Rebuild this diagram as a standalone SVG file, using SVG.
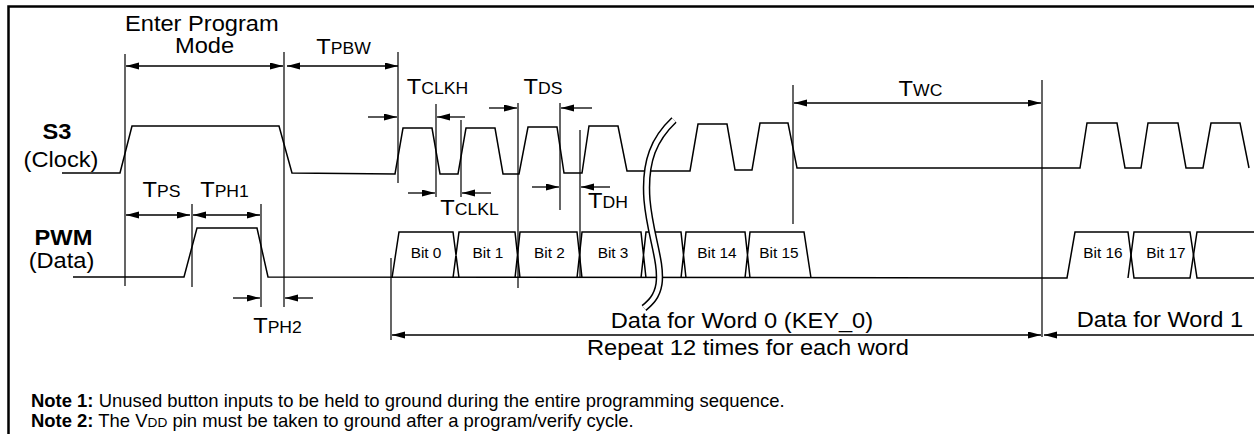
<svg xmlns="http://www.w3.org/2000/svg" width="1254" height="434" viewBox="0 0 1254 434">
<defs>
<marker id="ah" markerUnits="userSpaceOnUse" markerWidth="13" markerHeight="8" refX="13" refY="3.5" orient="auto-start-reverse"><path d="M0,0 L13,3.5 L0,7 z" fill="#000"/></marker>
</defs>
<style>
.w{fill:none;stroke:#000;stroke-width:1.5;stroke-linejoin:miter}
.d{fill:none;stroke:#000;stroke-width:1.2}
.a{fill:none;stroke:#000;stroke-width:1.3;marker-end:url(#ah)}
.ab{marker-start:url(#ah)}
text{font-family:"Liberation Sans",Arial,sans-serif;fill:#000}
.L{font-size:21.5px}
.s{font-size:16px}
.bit{font-size:14px}
.n{font-size:17.5px}
.bold{font-weight:bold}
</style>
<rect x="0" y="0" width="1254" height="434" fill="#fff"/>
<path id="frame" d="M8.5,434 V6.5 H1254" fill="none" stroke="#000" stroke-width="2.5"/>

<g id="clock-wave" class="w">
<path d="M62,173 L120,173 L132,126 L279,126 L292,173 L395,174 L403,128 L432,128 L440,174 L458,174 L466,128 L495,128 L503,174 L519,174 L528,127 L557,127 L564,173 L582,173 L589,126 L618,126 L627,171 L690,171 L698,124 L727,124 L735,170 L752,170 L760,123 L788,123 L797,168 L1080,168 L1087,123 L1117,123 L1125,168 L1141,168 L1148,123 L1178,123 L1186,168 L1203,168 L1211,123 L1240,123 L1249,168"/>
</g>

<g id="data-wave" class="w">
<path d="M73,277 L184,277 L197,228 L257,228 L268,277 L1067,278 L1075,232 L1128,232 L1134,278 H1190 L1197,232 H1254"/>
<path d="M1128,278 L1134,232 H1190 L1197,278 H1254"/>
<path d="M392,278 L399,232 H453 L459,278 M453,278 L459,232 H515 L520,278 M515,278 L520,232 H577 L582,278 M577,278 L582,232 H641 L646,278 M641,278 L646,232 H681 L686,278 M681,278 L686,232 H745 L750,278 M745,278 L750,232 H804 L811,278"/>
</g>

<g id="break">
<path d="M674,120 C655,138 644,160 647,200 C650,235 662,262 659,284 C657,297 650,303 644,308" fill="none" stroke="#000" stroke-width="7.5"/>
<path d="M674,120 C655,138 644,160 647,200 C650,235 662,262 659,284 C657,297 650,303 644,308" fill="none" stroke="#fff" stroke-width="4.5"/>
</g>

<g id="dimension-lines" class="d">
<path d="M125,54 V286 M284,52 V307 M398,52 V183 M436,104 V197 M461,120 V197 M518,103 V288 M560,103 V210 M580,130 V278 M793,85 V224 M1042,80 V337 M192,204 V287 M261,204 V307 M391,258 V340"/>
</g>

<g id="connectors">
<path class="a ab" d="M126,66 H283"/>
<path class="a ab" d="M287,66 H398"/>
<path class="a" d="M368,117 H397"/>
<path class="a" d="M465,117 H437"/>
<path class="a" d="M408,193 H435"/>
<path class="a" d="M491,193 H462"/>
<path class="a" d="M489,108 H517"/>
<path class="a" d="M592,108 H561"/>
<path class="a" d="M532,187 H559"/>
<path class="a" d="M610,187 H581"/>
<path class="a ab" d="M794,103 H1041"/>
<path class="a ab" d="M126,215 H190"/>
<path class="a ab" d="M193,215 H260"/>
<path class="a" d="M233,298 H260"/>
<path class="a" d="M313,298 H285"/>
<path class="a ab" d="M392,335 H1041"/>
<path class="a" d="M1254,335 H1044"/>
</g>

<g id="labels" transform="scale(1.1,1)" text-anchor="middle">
<text class="L" x="183.5" y="31.5">Enter Program</text>
<text class="L" x="186" y="53.5">Mode</text>
<text class="L" x="312.3" y="54">T<tspan class="s">PBW</tspan></text>
<text class="L" x="397.7" y="94">T<tspan class="s">CLKH</tspan></text>
<text class="L" x="493.6" y="94">T<tspan class="s">DS</tspan></text>
<text class="L" x="836.8" y="96">T<tspan class="s">WC</tspan></text>
<text class="L" x="426.8" y="215">T<tspan class="s">CLKL</tspan></text>
<text class="L" x="552.7" y="208">T<tspan class="s">DH</tspan></text>
<text class="L" x="146.8" y="197">T<tspan class="s">PS</tspan></text>
<text class="L" x="204.1" y="197">T<tspan class="s">PH1</tspan></text>
<text class="L" x="252.3" y="333">T<tspan class="s">PH2</tspan></text>
<text class="L bold" x="51.8" y="139">S3</text>
<text class="L" x="55.5" y="167">(Clock)</text>
<text class="L bold" x="57.7" y="245">PWM</text>
<text class="L" x="55.9" y="268">(Data)</text>
<text class="bit" x="387.3" y="258">Bit 0</text>
<text class="bit" x="443.6" y="258">Bit 1</text>
<text class="bit" x="499.5" y="258">Bit 2</text>
<text class="bit" x="557.3" y="258">Bit 3</text>
<text class="bit" x="651.8" y="258">Bit 14</text>
<text class="bit" x="708.2" y="258">Bit 15</text>
<text class="bit" x="1002.7" y="258">Bit 16</text>
<text class="bit" x="1060" y="258">Bit 17</text>
<text class="L" x="674.5" y="328">Data for Word 0 (KEY_0)</text>
<text class="L" x="680" y="355">Repeat 12 times for each word</text>
<text class="L" x="1054.5" y="327">Data for Word 1</text>
</g>
<g id="notes" transform="translate(31,0) scale(1.055,1)">
<text class="n" x="0" y="407"><tspan class="bold">Note 1:</tspan> Unused button inputs to be held to ground during the entire programming sequence.</text>
<text class="n" x="0" y="427"><tspan class="bold">Note 2:</tspan> The V<tspan font-size="13px">DD</tspan> pin must be taken to ground after a program/verify cycle.</text>
</g>
</svg>
